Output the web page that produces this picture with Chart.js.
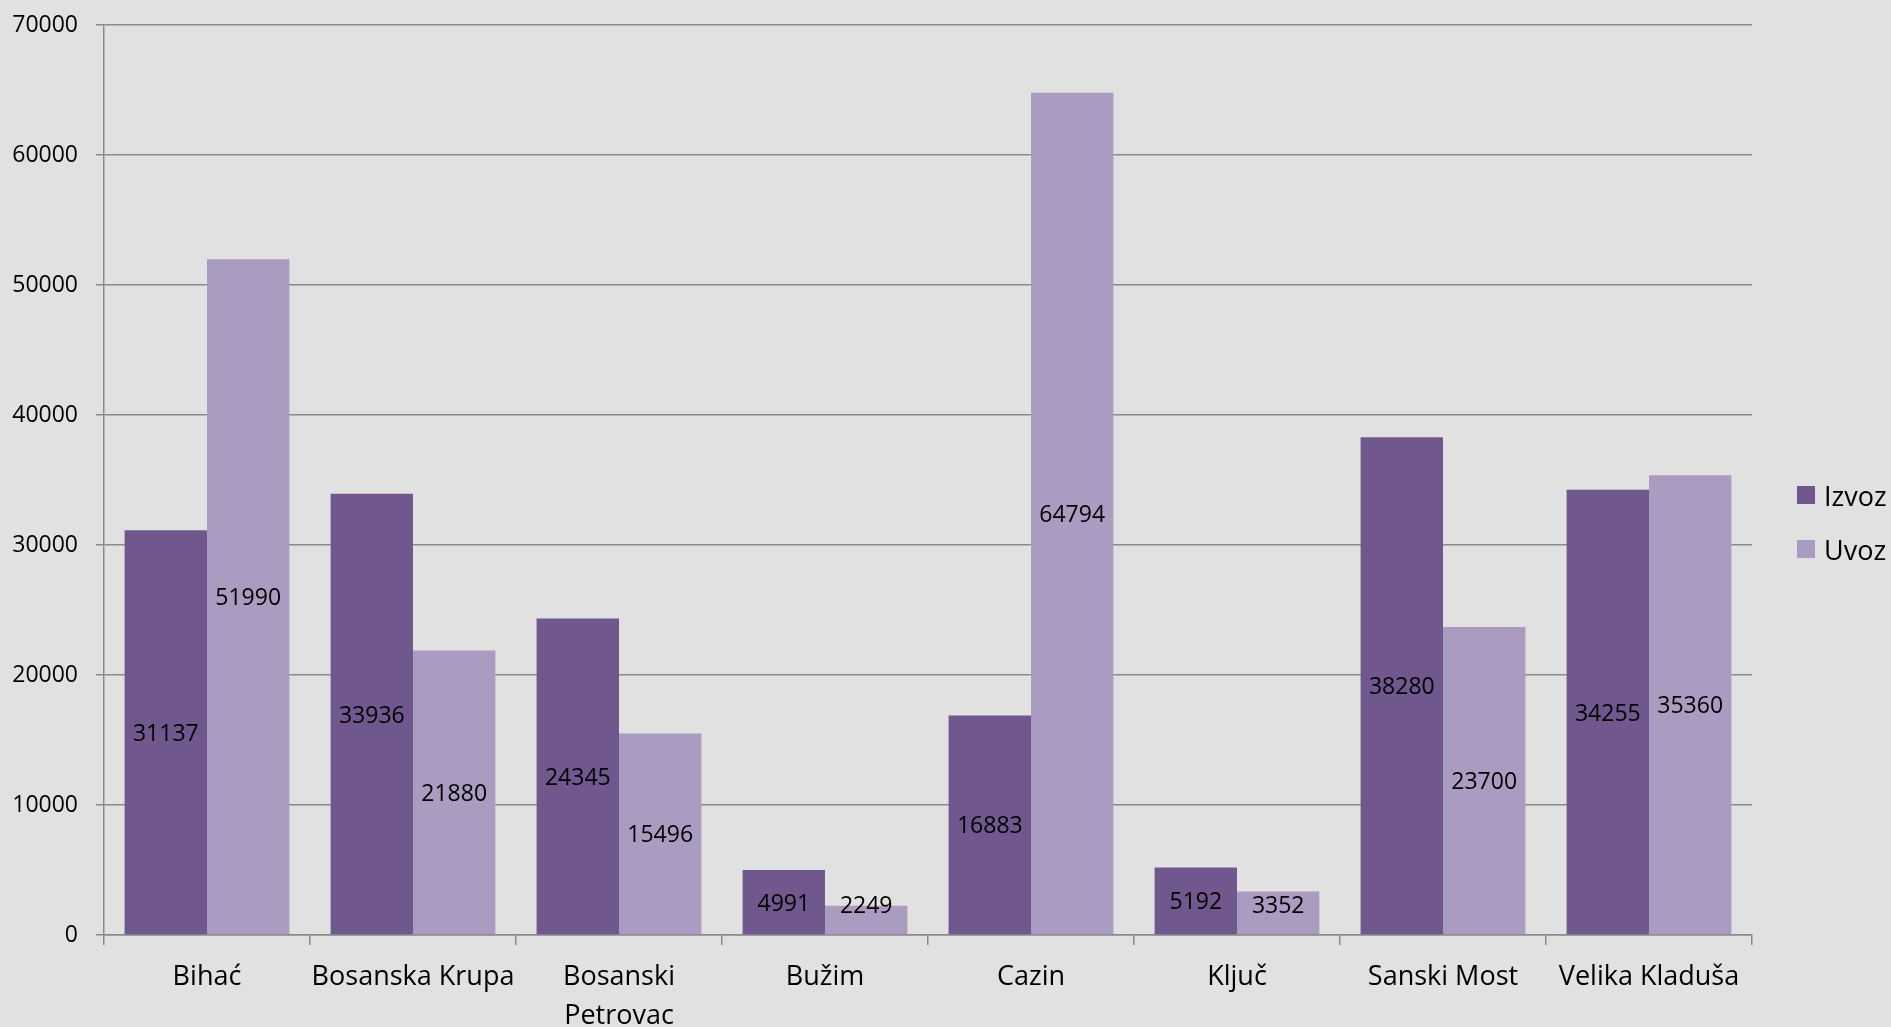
<!DOCTYPE html>
<html>
<head>
<meta charset="utf-8">
<title>Izvoz i uvoz</title>
<script src="https://cdn.jsdelivr.net/npm/chart.js@4.4.1/dist/chart.umd.min.js"></script>
<style>
  html, body { margin: 0; padding: 0; overflow: hidden; background: #e1e1e1; }
  #wrap { position: relative; width: 1891px; height: 1027px; }
  #legenda { position: absolute; left: 1797px; top: 477px; font-family: "Open Sans", sans-serif; font-size: 27px; color: #000; }
  #legenda .red { display: flex; align-items: center; height: 36px; margin-bottom: 18px; }
  #legenda .kv { width: 18px; height: 18px; margin-right: 9px; }
</style>
</head>
<body>
<div id="wrap">
  <canvas id="myChart" width="1891" height="1027"></canvas>
  <div id="legenda"></div>
</div>
<script>
// opcine
const opcine = ['Bihać', 'Bosanska Krupa', ['Bosanski', 'Petrovac'], 'Bužim', 'Cazin', 'Ključ', 'Sanski Most', 'Velika Kladuša']

// vrijednosti
const izvoz = [31137, 33936, 24345, 4991, 16883, 5192, 38280, 34255]
const uvoz = [51990, 21880, 15496, 2249, 64794, 3352, 23700, 35360]

const nazivi = ['Izvoz', 'Uvoz']
const boje = ['#70588e', '#aa9bc0']

const yMax = 70000
const yKorak = 10000

const sivaLinija = '#8a8a8a'

/**
 * ispisuje vrijednost na sredini svakog stupca
 * (kod niskih stupaca oznaka ne ide ispod osi)
 */
const oznakeStupaca = {
  id: 'oznakeStupaca',
  afterDatasetsDraw(chart) {
    const ctx = chart.ctx
    ctx.save()
    ctx.font = '23px "Open Sans"'
    ctx.fillStyle = '#000'
    ctx.textAlign = 'center'
    ctx.textBaseline = 'middle'
    chart.data.datasets.forEach((ds, i) => {
      chart.getDatasetMeta(i).data.forEach((bar, j) => {
        const y = Math.min((bar.y + bar.base) / 2 + 2, bar.base - 28)
        ctx.fillText(ds.data[j], bar.x, y)
      })
    })
    ctx.restore()
  }
}

document.addEventListener('DOMContentLoaded', () => {
  const ctx = document.getElementById('myChart')

  new Chart(ctx, {
    type: 'bar',
    data: {
      labels: opcine,
      datasets: [
        { label: nazivi[0], data: izvoz, backgroundColor: boje[0] },
        { label: nazivi[1], data: uvoz, backgroundColor: boje[1] }
      ]
    },
    options: {
      responsive: false,
      animation: false,
      devicePixelRatio: 1,
      categoryPercentage: 0.8,
      barPercentage: 1.0,
      layout: { padding: { top: 25, right: 139, left: 0, bottom: 0 } },
      plugins: {
        legend: { display: false },
        tooltip: { enabled: false }
      },
      scales: {
        x: {
          offset: true,
          grid: {
            offset: true,
            drawOnChartArea: false,
            drawTicks: true,
            tickLength: 10,
            color: sivaLinija,
            lineWidth: 1.5
          },
          border: { display: true, color: sivaLinija, width: 1.5 },
          ticks: {
            color: '#000',
            padding: 13,
            maxRotation: 0,
            autoSkip: false,
            font: { family: 'Open Sans', size: 27, lineHeight: 1.45 }
          },
          afterFit(scale) { scale.height = 92 }
        },
        y: {
          min: 0,
          max: yMax,
          grid: {
            color: sivaLinija,
            lineWidth: 1.5,
            tickLength: 8
          },
          border: { display: true, color: sivaLinija, width: 1.5 },
          ticks: {
            stepSize: yKorak,
            color: '#000',
            padding: 18,
            font: { family: 'Open Sans', size: 23 },
            callback: (v) => String(v)
          },
          afterFit(scale) {
            scale.width = 104
            // vrh grafa odredjuje layout.padding
            scale.paddingTop = 0
            scale.paddingBottom = 0
          }
        }
      }
    },
    plugins: [oznakeStupaca]
  })

  // legenda
  const legenda = document.getElementById('legenda')
  nazivi.forEach((naziv, i) => {
    const red = document.createElement('div')
    red.className = 'red'
    const kv = document.createElement('span')
    kv.className = 'kv'
    kv.style.background = boje[i]
    const tekst = document.createElement('span')
    tekst.textContent = naziv
    red.appendChild(kv)
    red.appendChild(tekst)
    legenda.appendChild(red)
  })
})
</script>
</body>
</html>
